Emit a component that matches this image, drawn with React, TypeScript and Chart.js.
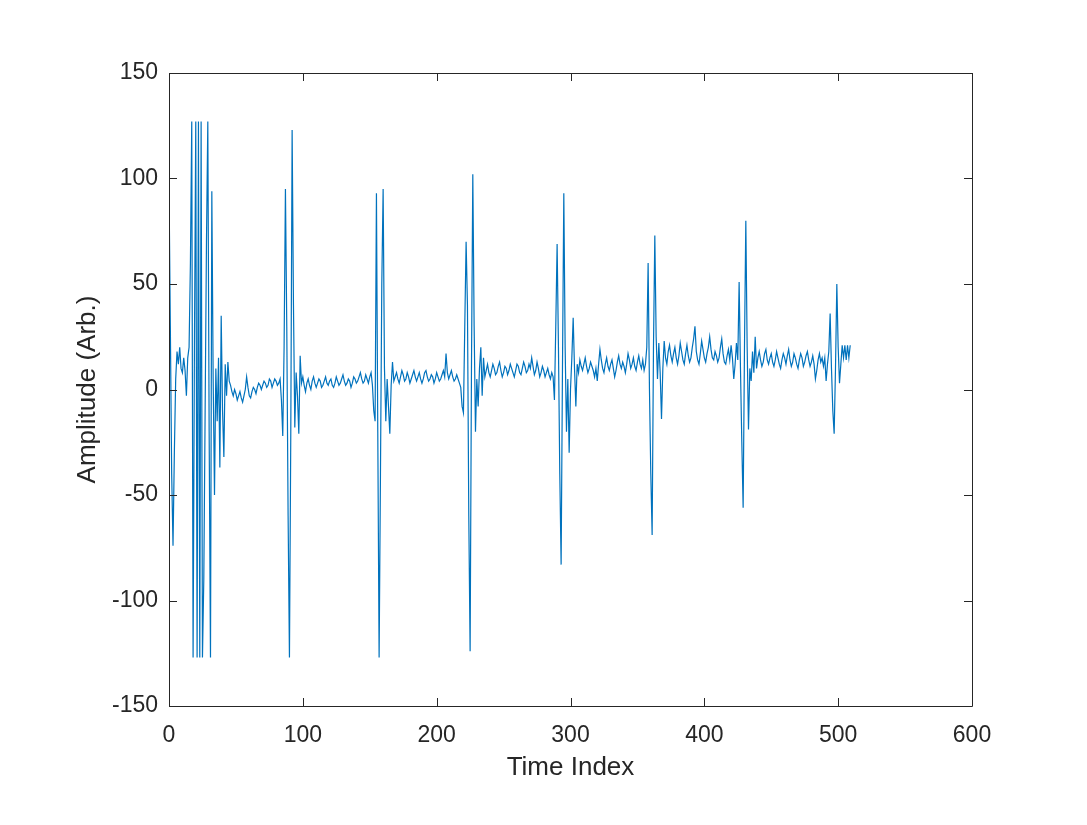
import { useEffect, useRef } from "react";
import { Chart, registerables } from "chart.js";

Chart.register(...registerables);

// Amplitude samples, one per time index, grouped by beat
const beat0 = [
  97, 30, -40, -74, -30, 5, 18, 12, 20, 10,
  8, 15, 9, -3, 15, 20, 60, 127, -127, 20,
  127, -127, 127, -127, 127, -127, -90, -10, 70, 127,
  -20, -127, 94, 5, -50, 10, -15, 15, -37, 35,
  -10, -32, 12, -3, 13, 4, 2, -1, -3, 0,
  -2, -5, -3, -1, -4, -6, -3, 0, 6, 1,
  -3, -4, -1, 1, 0, -2, 1, 3, 2, 0,
  2, 4, 3, 1, 2, 5, 4, 1, 3, 5,
];
const beat1 = [
  4, 2, 3, 5, -5, -22, 20, 95, 30, -60,
  -127, -20, 123, 40, -18, 8, -3, -21, 16, 3,
  6, 2, -1, 3, 5, 2, 0, 4, 6, 3,
  1, 3, 5, 4, 1, 2, 4, 6, 3, 2,
  4, 5, 2, 1, 3, 6, 4, 2, 3, 5,
  7, 4, 2, 3, 5, 4, 1, 3, 6, 5,
  3, 4, 6, 8, 5, 3, 4, 7, 5, 3,
];
const beat2 = [
  6, 8, 2, -10, -15, 93, -20, -127, -40, 50,
  95, 10, -15, 5, -8, -21, 2, 13, 4, 6,
  8, 5, 3, 6, 9, 7, 4, 5, 8, 6,
  3, 5, 7, 9, 6, 4, 6, 8, 5, 3,
  5, 8, 9, 6, 4, 5, 7, 6, 3, 5,
  8, 6, 4, 5, 7, 9, 6, 17, 8, 5,
  7, 9, 6, 4, 5, 7, 5, 3, 1, -8,
];
const beat3 = [
  -11, 30, 70, 40, -60, -124, 10, 102, 30, -20,
  5, -8, 10, 20, -3, 15, 6, 9, 12, 8,
  6, 9, 12, 10, 7, 8, 11, 13, 9, 6,
  8, 11, 10, 7, 9, 12, 10, 8, 6, 9,
  12, 11, 8, 7, 10, 13, 11, 8, 9, 12,
  10, 15, 11, 7, 9, 13, 10, 6, 8, 11,
  9, 6, 8, 10, 7, 5, 8, 6, -5, 30,
];
const beat4 = [
  69, 20, -40, -83, 10, 93, 20, -20, 5, -30,
  0, 15, 34, 10, -8, 12, 8, 14, 11, 9,
  12, 15, 11, 8, 10, 13, 11, 9, 6, 10,
  4, 12, 19, 14, 10, 8, 12, 15, 11, 9,
  12, 14, 10, 6, 9, 13, 16, 12, 10, 13,
  11, 8, 12, 17, 14, 10, 12, 15, 11, 9,
  13, 16, 12, 10, 14, 9, 12, 20, 60, 0,
];
const beat5 = [
  -40, -69, 20, 73, 25, 5, 22, 8, -14, 10,
  23, 15, 12, 18, 21, 16, 13, 17, 20, 15,
  12, 16, 22, 18, 14, 12, 17, 21, 16, 13,
  15, 20, 24, 30, 18, 14, 12, 17, 23, 19,
  15, 13, 17, 20, 25, 19, 15, 14, 18, 16,
  13, 15, 20, 24, 17, 13, 12, 16, 19, 14,
  21, 15, 5, 12, 22, 14, 51, 10, -25, -56,
];
const beat6 = [
  20, 80, 20, -19, 10, 4, 18, 8, 25, 10,
  15, 18, 14, 11, 13, 17, 19, 14, 12, 15,
  17, 13, 11, 14, 18, 15, 12, 10, 14, 17,
  15, 12, 16, 19, 14, 11, 13, 17, 15, 12,
  10, 14, 17, 15, 11, 13, 16, 18, 14, 11,
  13, 16, 12, 5, 9, 14, 17, 13, 15, 11,
  15, 4, 12, 18, 36, 10, -10, -21, 10, 50,
  20, 3, 12, 21, 15, 21, 14, 21, 15, 21,
];

const amplitude = [...beat0, ...beat1, ...beat2, ...beat3, ...beat4, ...beat5, ...beat6];

const xTicks = [0, 100, 200, 300, 400, 500, 600];
const yTicks = [-150, -100, -50, 0, 50, 100, 150];
const xTitle = "Time Index";
const yTitle = "Amplitude (Arb.)";

const W = 1087;
const H = 825;
const AXIS = "#262626";
const FONT = "'Liberation Sans', Arial, Helvetica, sans-serif";

const boxPlugin = {
  id: "matlabBox",
  afterDraw(chart: any) {
    const { ctx, chartArea } = chart;
    const { left, right, top, bottom } = chartArea;
    const xs = chart.scales.x;
    const ys = chart.scales.y;
    const tl = 8;
    ctx.save();
    ctx.strokeStyle = AXIS;
    ctx.lineWidth = 1;
    ctx.beginPath();
    ctx.rect(Math.round(left) + 0.5, Math.round(top) + 0.5, Math.round(right - left), Math.round(bottom - top));
    for (const v of xTicks) {
      const px = Math.round(xs.getPixelForValue(v)) + 0.5;
      ctx.moveTo(px, bottom);
      ctx.lineTo(px, bottom - tl);
      ctx.moveTo(px, top);
      ctx.lineTo(px, top + tl);
    }
    for (const v of yTicks) {
      const py = Math.round(ys.getPixelForValue(v)) + 0.5;
      ctx.moveTo(left, py);
      ctx.lineTo(left + tl, py);
      ctx.moveTo(right, py);
      ctx.lineTo(right - tl, py);
    }
    ctx.stroke();
    ctx.fillStyle = AXIS;
    ctx.font = `26px ${FONT}`;
    ctx.textAlign = "center";
    ctx.textBaseline = "middle";
    ctx.fillText(xTitle, (left + right) / 2, 768);
    ctx.translate(88, (top + bottom) / 2);
    ctx.rotate(-Math.PI / 2);
    ctx.fillText(yTitle, 0, 0);
    ctx.restore();
  },
};

export default function App() {
  const ref = useRef<HTMLCanvasElement | null>(null);
  useEffect(() => {
    document.body.style.margin = "0";
    document.body.style.background = "#ffffff";
    const canvas = ref.current;
    if (!canvas) return;
    const chart = new Chart(canvas, {
      type: "line",
      data: {
        datasets: [
          {
            data: amplitude.map((v, i) => ({ x: i, y: v })),
            borderColor: "#0072BD",
            borderWidth: 1.2,
            pointRadius: 0,
            tension: 0,
            fill: false,
          },
        ],
      },
      options: {
        responsive: false,
        animation: false,
        devicePixelRatio: 1,
        layout: { padding: { top: 73, right: 115, left: 0, bottom: 0 } },
        plugins: { legend: { display: false }, tooltip: { enabled: false } },
        scales: {
          x: {
            type: "linear",
            min: 0,
            max: 600,
            afterBuildTicks: (s: any) => {
              s.ticks = xTicks.map((v) => ({ value: v }));
            },
            afterFit: (s: any) => {
              s.height = H - 706;
            },
            grid: { display: false },
            border: { display: false },
            ticks: { color: AXIS, font: { family: FONT, size: 23 }, padding: 8, maxRotation: 0 },
          },
          y: {
            type: "linear",
            min: -150,
            max: 150,
            afterBuildTicks: (s: any) => {
              s.ticks = yTicks.map((v) => ({ value: v }));
            },
            afterFit: (s: any) => {
              s.width = 169;
            },
            grid: { display: false },
            border: { display: false },
            ticks: { color: AXIS, font: { family: FONT, size: 23 }, padding: 3 },
          },
        },
      },
      plugins: [boxPlugin],
    });
    return () => chart.destroy();
  }, []);
  return (
    <div style={{ width: W, height: H, background: "#fff" }}>
      <canvas ref={ref} width={W} height={H} style={{ display: "block", width: W, height: H }} />
    </div>
  );
}
